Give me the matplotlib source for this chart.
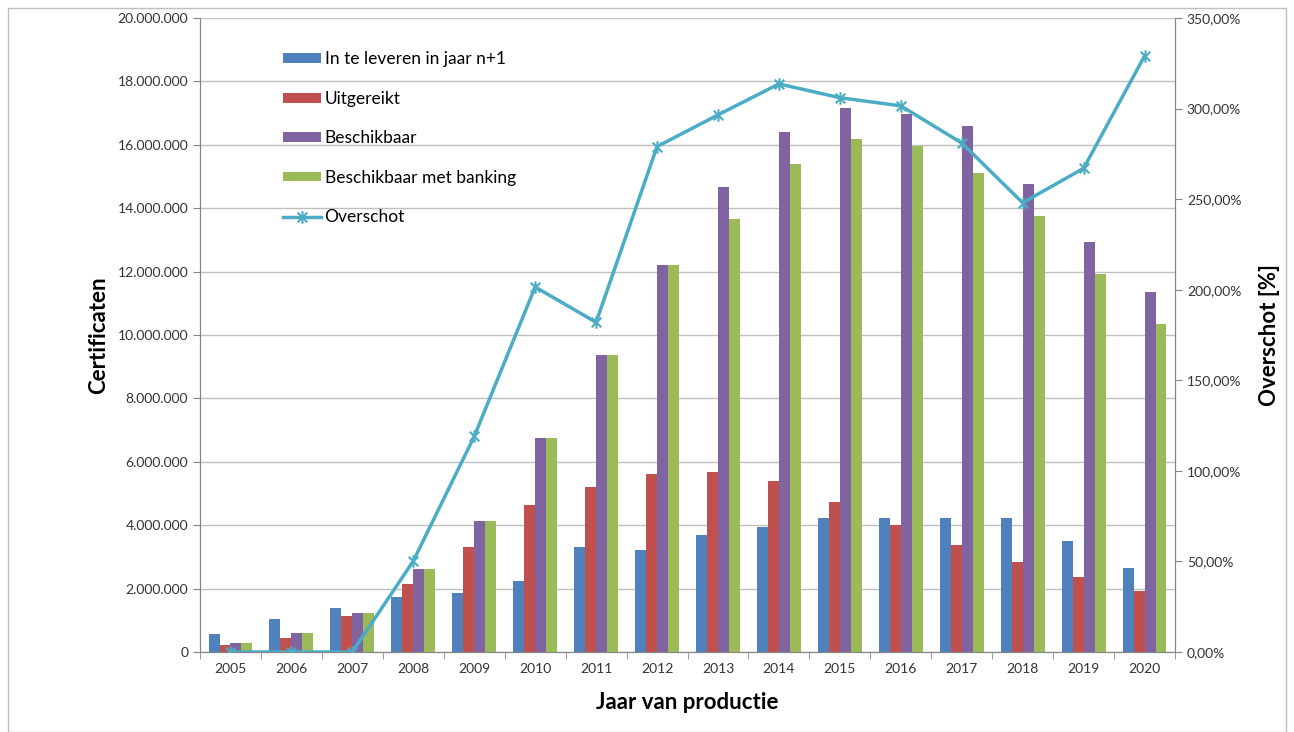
import numpy as np
import matplotlib.pyplot as plt
from matplotlib.path import Path
from matplotlib.patches import Rectangle
from matplotlib.ticker import FuncFormatter, MultipleLocator

plt.rcParams['font.family'] = ['Lato', 'DejaVu Sans']

# Données
jaren = ['2005', '2006', '2007', '2008', '2009', '2010', '2011', '2012',
         '2013', '2014', '2015', '2016', '2017', '2018', '2019', '2020']
te_leveren = [0.57e6, 1.04e6, 1.39e6, 1.73e6, 1.86e6, 2.24e6, 3.31e6, 3.22e6,
              3.69e6, 3.94e6, 4.23e6, 4.23e6, 4.23e6, 4.23e6, 3.50e6, 2.65e6]
uitgereikt = [0.22e6, 0.44e6, 1.13e6, 2.15e6, 3.32e6, 4.64e6, 5.20e6, 5.62e6,
              5.68e6, 5.39e6, 4.73e6, 4.01e6, 3.38e6, 2.84e6, 2.37e6, 1.93e6]
beschikbaar = [0.28e6, 0.60e6, 1.23e6, 2.62e6, 4.13e6, 6.75e6, 9.37e6, 12.22e6,
               14.67e6, 16.40e6, 17.16e6, 16.97e6, 16.60e6, 14.76e6, 12.93e6, 11.36e6]
beschikbaar_banking = [0.28e6, 0.60e6, 1.23e6, 2.62e6, 4.13e6, 6.75e6, 9.37e6, 12.22e6,
                       13.66e6, 15.40e6, 16.18e6, 15.96e6, 15.10e6, 13.75e6, 11.92e6, 10.35e6]
overschot = [0.0, 0.0, 0.0, 50.2, 119.0, 201.5, 182.0, 279.0,
             296.5, 313.6, 306.0, 301.5, 281.0, 248.0, 267.0, 329.0]

series = [
    ('In te leveren in jaar n+1', te_leveren, '#4F81BD'),
    ('Uitgereikt', uitgereikt, '#C0504D'),
    ('Beschikbaar', beschikbaar, '#8064A2'),
    ('Beschikbaar met banking', beschikbaar_banking, '#9BBB59'),
]

# Marqueur étoile façon Excel (x + barre verticale)
ster = Path([(-1, -1), (1, 1), (-1, 1), (1, -1), (0, -1.3), (0, 1.3)],
            [Path.MOVETO, Path.LINETO, Path.MOVETO, Path.LINETO, Path.MOVETO, Path.LINETO])

fig = plt.figure(figsize=(12.94, 7.32), dpi=100)
ax = fig.add_axes([200 / 1294, 1 - 652 / 732, 975 / 1294, 634 / 732])
ax2 = ax.twinx()

x = np.arange(len(jaren))
w = 0.18
handles = []
for i, (naam, waarden, kleur) in enumerate(series):
    b = ax.bar(x + (i - 1.5) * w, waarden, width=w, color=kleur, label=naam, zorder=3)
    handles.append(b)

lijn, = ax2.plot(x, overschot, color='#4BACC6', linewidth=2.5, marker=ster,
                 markersize=9, markeredgewidth=1.5, label='Overschot', zorder=4)
handles.append(lijn)

# Axes
ax.set_xlim(-0.5, len(jaren) - 0.5)
ax.set_ylim(0, 20e6)
ax.yaxis.set_major_locator(MultipleLocator(2e6))
ax.yaxis.set_major_formatter(FuncFormatter(lambda v, p: f'{int(v):,}'.replace(',', '.')))
ax2.set_ylim(0, 350)
ax2.yaxis.set_major_locator(MultipleLocator(50))
ax2.yaxis.set_major_formatter(FuncFormatter(lambda v, p: f'{v:.2f}'.replace('.', ',') + '%'))

ax.set_xticks(x)
ax.set_xticklabels(jaren)
ax.set_xticks(np.arange(-0.5, len(jaren)), minor=True)
ax.tick_params(axis='x', which='major', length=0, labelsize=10, pad=8, colors='#333333')
ax.tick_params(axis='x', which='minor', length=5, color='#868686')
ax.tick_params(axis='y', length=5, color='#868686', labelsize=10, labelcolor='#333333')
ax2.tick_params(axis='y', length=5, color='#868686', labelsize=10, labelcolor='#333333')

ax.grid(axis='y', color='#BFBFBF', linewidth=1, zorder=0)
ax.set_axisbelow(True)
for a in (ax, ax2):
    a.spines['top'].set_visible(False)
    for s in ('left', 'right', 'bottom'):
        a.spines[s].set_color('#868686')

ax.set_xlabel('Jaar van productie', fontsize=16, fontweight='bold', labelpad=12)
ax.set_ylabel('Certificaten', fontsize=16, fontweight='bold', labelpad=6)
ax2.set_ylabel('Overschot [%]', fontsize=16, fontweight='bold', labelpad=13)

ax2.legend(handles=handles, loc='upper left', bbox_to_anchor=(0.069, 0.972),
           frameon=False, fontsize=12.5, labelspacing=1.35,
           handlelength=2.2, handleheight=0.5, handletextpad=0.2)

# Cadre extérieur
fig.patches.append(Rectangle((8 / 1294, 0.0), 1278 / 1294, 1 - 8 / 732,
                             transform=fig.transFigure, fill=False,
                             edgecolor='#BFBFBF', linewidth=1))

fig.savefig('out.png', dpi=100)
